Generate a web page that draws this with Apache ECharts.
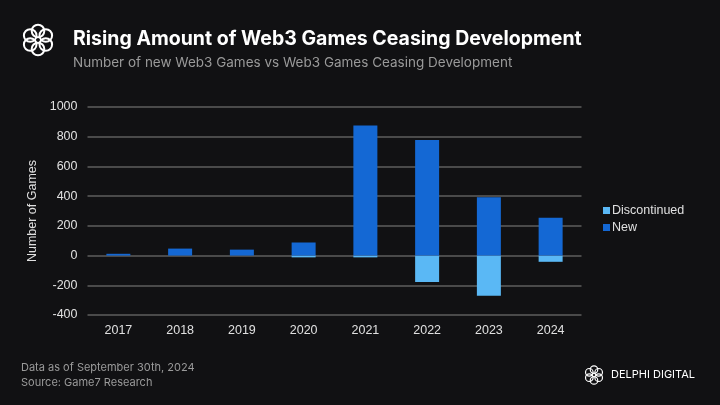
<!DOCTYPE html>
<html>
<head>
<meta charset="utf-8">
<script src="https://cdn.jsdelivr.net/npm/echarts@6/dist/echarts.min.js"></script>
<style>
  html, body { margin: 0; padding: 0; background: #111113; }
  #chart { width: 720px; height: 405px; }
</style>
</head>
<body>
<div id="chart"></div>
<script>
const years = ['2017', '2018', '2019', '2020', '2021', '2022', '2023', '2024'];
const newGames = [12, 47, 40, 88, 875, 778, 392, 255];
const discontinued = [0, 0, 0, -12, -12, -178, -270, -42];
const yTicks = [-400, 1000, 200];

const chart = echarts.init(document.getElementById('chart'));

// little ring-of-loops logo, drawn as circles around a centre
function logo(cx, cy, r, small) {
  const items = [];
  const n = 6;
  for (let i = 0; i < n; i++) {
    const a = (Math.PI * 2 * i) / n - Math.PI / 2;
    items.push({
      type: 'circle',
      shape: { cx: cx + Math.cos(a) * r * 0.6, cy: cy + Math.sin(a) * r * 0.6, r: r * 0.42 },
      style: { fill: 'none', stroke: '#fff', lineWidth: small ? 1.2 : 2 }
    });
  }
  return items;
}

const option = {
  backgroundColor: '#111113',
  textStyle: { fontFamily: 'Liberation Sans' },
  graphic: [
    ...logo(38, 40, 15, false),
    {
      type: 'text', left: 73, top: 29,
      style: { text: 'Rising Amount of Web3 Games Ceasing Development', fill: '#fff', font: 'bold 19.5px Inter' }
    },
    {
      type: 'text', left: 73, top: 56,
      style: { text: 'Number of new Web3 Games vs Web3 Games Ceasing Development', fill: '#9a9a9a', font: '13.5px Inter' }
    },
    {
      type: 'text', left: 21, top: 362,
      style: { text: 'Data as of September 30th, 2024', fill: '#9a9a9a', font: '11px Inter' }
    },
    {
      type: 'text', left: 21, top: 377,
      style: { text: 'Source: Game7 Research', fill: '#9a9a9a', font: '11px Inter' }
    },
    ...logo(594, 375, 9, true),
    {
      type: 'text', left: 611, top: 369,
      style: { text: 'DELPHI DIGITAL', fill: '#fff', font: '11px Inter', letterSpacing: 2 }
    }
  ],
  legend: {
    orient: 'vertical',
    left: 598,
    top: 199,
    itemWidth: 7,
    itemHeight: 7,
    itemGap: 4,
    icon: 'rect',
    data: ['Discontinued', 'New'],
    textStyle: { color: '#e0e0e0', fontSize: 12.5, padding: [0, 0, 0, -3] }
  },
  grid: { left: 87.5, right: 138.5, top: 107, bottom: 90 },
  xAxis: {
    type: 'category',
    data: years,
    axisLine: { show: false },
    axisTick: { show: false },
    axisLabel: { color: '#e0e0e0', fontSize: 12.5, margin: 9 }
  },
  yAxis: {
    type: 'value',
    min: yTicks[0],
    max: yTicks[1],
    interval: yTicks[2],
    name: 'Number of Games',
    nameLocation: 'middle',
    nameGap: 48,
    nameTextStyle: { color: '#e0e0e0', fontSize: 12.5 },
    axisLabel: { color: '#e0e0e0', fontSize: 12.5, margin: 10, formatter: v => String(v) },
    splitLine: { lineStyle: { color: '#5e5e5e', width: 1.5 } }
  },
  series: [
    {
      name: 'Discontinued',
      type: 'bar',
      stack: 'games',
      barWidth: 24,
      data: discontinued,
      itemStyle: { color: '#5ab8f5' }
    },
    {
      name: 'New',
      type: 'bar',
      stack: 'games',
      barWidth: 24,
      data: newGames,
      itemStyle: { color: '#1468d4' }
    }
  ]
};

chart.setOption(option);
</script>
</body>
</html>
